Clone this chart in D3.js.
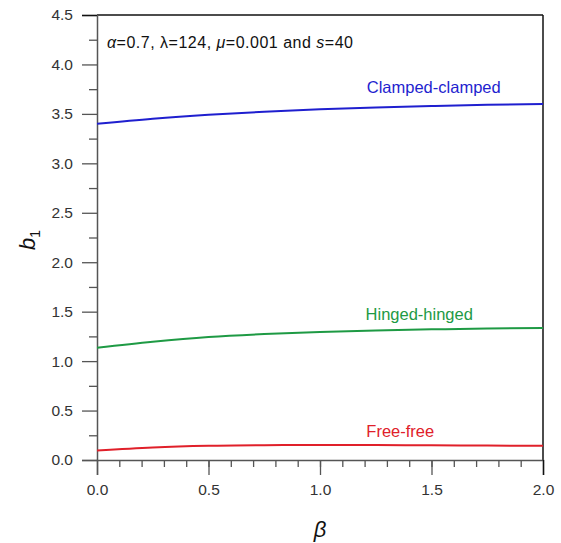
<!DOCTYPE html>
<html>
<head>
<meta charset="utf-8">
<script src="https://cdn.jsdelivr.net/npm/d3@7"></script>
<style>
  body { margin: 0; background: #fff; }
  text { font-family: "Liberation Sans", Arial, sans-serif; }
</style>
</head>
<body>
<svg></svg>
<script>
var width = 561;
var height = 543;

// beta values along the x axis
var betas = [0, 0.25, 0.5, 0.75, 1.0, 1.25, 1.5, 1.75, 2.0];

var clamped = [3.40, 3.452, 3.492, 3.522, 3.546, 3.565, 3.58, 3.592, 3.60];
var hinged = [1.135, 1.195, 1.243, 1.274, 1.295, 1.31, 1.321, 1.33, 1.336];
var free = [0.095, 0.127, 0.144, 0.150, 0.152, 0.151, 0.149, 0.146, 0.143];

var xTicks = [0, 0.5, 1.0, 1.5, 2.0];
var yTicks = [0, 0.5, 1.0, 1.5, 2.0, 2.5, 3.0, 3.5, 4.0, 4.5];

var series = [
  { name: "Clamped-clamped", values: clamped, color: "#1f1fcf", lx: 1.51, ly: 3.71 },
  { name: "Hinged-hinged", values: hinged, color: "#1e9a44", lx: 1.445, ly: 1.42 },
  { name: "Free-free", values: free, color: "#e0202a", lx: 1.36, ly: 0.23 }
];

var plotL = 97, plotR = 543, plotT = 15, plotB = 460;

var svg = d3.select("svg")
              .attr("width", width)
              .attr("height", height);

var x = d3.scaleLinear().domain([0, 2]).range([plotL, plotR]);
var y = d3.scaleLinear().domain([0, 4.5]).range([plotB, plotT]);

var axisColor = "#555";

// top and right borders
svg.append("line")
   .attr("x1", plotL).attr("x2", plotR).attr("y1", plotT).attr("y2", plotT)
   .attr("stroke", "#111").attr("stroke-width", 1.5);
svg.append("line")
   .attr("x1", plotR).attr("x2", plotR).attr("y1", plotT).attr("y2", plotB)
   .attr("stroke", "#111").attr("stroke-width", 1.5);

// x axis: major ticks + minor every 0.1
var xAxis = svg.append("g")
   .attr("transform", "translate(0," + plotB + ")")
   .call(d3.axisBottom(x).tickValues(xTicks).tickFormat(d3.format(".1f"))
          .tickSize(15).tickPadding(9));
svg.append("g")
   .attr("transform", "translate(0," + plotB + ")")
   .call(d3.axisBottom(x).tickValues(d3.range(1, 20).map(d => d / 10))
          .tickSize(7).tickFormat(""))
   .call(g => g.select(".domain").remove());

// y axis
var yAxis = svg.append("g")
   .attr("transform", "translate(" + plotL + ",0)")
   .call(d3.axisLeft(y).tickValues(yTicks).tickFormat(d3.format(".1f"))
          .tickSize(15).tickPadding(9));
svg.append("g")
   .attr("transform", "translate(" + plotL + ",0)")
   .call(d3.axisLeft(y).tickValues(d3.range(0.25, 4.5, 0.5))
          .tickSize(8).tickFormat(""))
   .call(g => g.select(".domain").remove());

svg.selectAll(".domain").attr("stroke", axisColor).attr("stroke-width", 1.5);
svg.selectAll(".tick line").attr("stroke", axisColor).attr("stroke-width", 1.3);
svg.selectAll("g").attr("font-size", 15.5).attr("font-family", "Liberation Sans, Arial, sans-serif");
svg.selectAll(".tick text").attr("fill", "#333");
// the 2.0 and 4.5 major ticks meet the black border
xAxis.selectAll(".tick").filter(d => d === 2).select("line").attr("stroke", "#111");
yAxis.selectAll(".tick").filter(d => d === 4.5).select("line").attr("stroke", "#111");

// curves
var line = d3.line()
   .x((d, i) => x(betas[i]))
   .y(d => y(d))
   .curve(d3.curveMonotoneX);

svg.selectAll(".curve")
   .data(series)
   .enter()
   .append("path")
     .attr("class", "curve")
     .attr("d", d => line(d.values))
     .attr("fill", "none")
     .attr("stroke", d => d.color)
     .attr("stroke-width", 2);

svg.selectAll(".label")
   .data(series)
   .enter()
   .append("text")
     .attr("class", "label")
     .attr("x", d => x(d.lx))
     .attr("y", d => y(d.ly))
     .attr("text-anchor", "middle")
     .attr("font-size", 16.5)
     .attr("fill", d => d.color)
     .text(d => d.name);

// parameter note
var note = svg.append("text")
   .attr("x", 107)
   .attr("y", 48)
   .attr("font-size", 16)
   .attr("fill", "#111")
   .attr("textLength", 246);
note.append("tspan").attr("font-style", "italic").text("α");
note.append("tspan").text("=0.7, λ=124, ");
note.append("tspan").attr("font-style", "italic").text("μ");
note.append("tspan").text("=0.001 and ");
note.append("tspan").attr("font-style", "italic").text("s");
note.append("tspan").text("=40");

// axis titles
var yt = svg.append("text")
   .attr("transform", "translate(35,240) rotate(-90)")
   .attr("text-anchor", "middle")
   .attr("font-size", 22)
   .attr("fill", "#111");
yt.append("tspan").attr("font-style", "italic").text("b");
yt.append("tspan").attr("font-size", 14).attr("dy", 5).text("1");

svg.append("text")
   .attr("x", 320)
   .attr("y", 537)
   .attr("text-anchor", "middle")
   .attr("font-size", 22)
   .attr("font-style", "italic")
   .attr("fill", "#111")
   .text("β");
</script>
</body>
</html>
